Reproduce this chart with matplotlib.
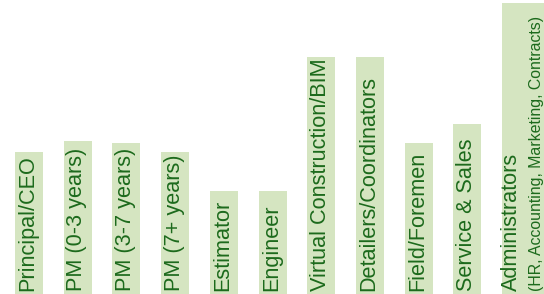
import matplotlib.pyplot as plt

roles = ['Principal/CEO', 'PM (0-3 years)', 'PM (3-7 years)', 'PM (7+ years)',
         'Estimator', 'Engineer', 'Virtual Construction/BIM',
         'Detailers/Coordinators', 'Field/Foremen', 'Service & Sales',
         'Administrators']
sub_label = '(HR, Accounting, Marketing, Contracts)'
values = [142, 153, 151, 142, 103, 103, 237, 237, 151, 170, 291]

bar_color = '#d5e5c1'
text_color = '#1c6a1c'

plt.rcParams['font.family'] = ['Liberation Sans', 'DejaVu Sans']

fig = plt.figure(figsize=(5.44, 2.94), dpi=100)
ax = fig.add_axes([0, 0, 1, 1])

xs = list(range(len(roles)))
w = 0.575
widths = [w] * (len(roles) - 1) + [0.9]
ax.bar(xs, values, width=widths, align='edge', color=bar_color, linewidth=0)

for x, name in zip(xs[:-1], roles[:-1]):
    ax.text(x + w / 2 - 0.02, 3, name, rotation=90, ha='center', va='bottom',
            fontsize=15.6, color=text_color)

# last bar has a two-line label, second line smaller
ax.text(xs[-1] + 0.2, 3, roles[-1], rotation=90, ha='center', va='bottom',
        fontsize=15.6, color=text_color)
ax.text(xs[-1] + 0.7, 3, sub_label, rotation=90, ha='center', va='bottom',
        fontsize=11.4, color=text_color)

ax.set_xlim(-0.308, 10.862)
ax.set_ylim(0, 294)
ax.axis('off')

fig.savefig('out.png', dpi=100)
